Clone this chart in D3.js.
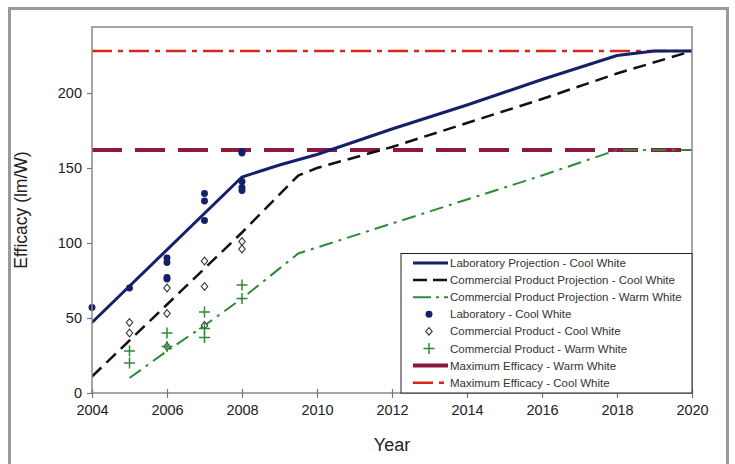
<!DOCTYPE html>
<html><head><meta charset="utf-8">
<script src="https://cdn.jsdelivr.net/npm/d3@7"></script>
<style>body{margin:0;background:#fff}svg{display:block}</style>
</head><body>
<script>
// ---- data ----
const labProjYears = [2004, 2008, 2009, 2010, 2012, 2014, 2016, 2018, 2019, 2020];
const labProjVals  = [47, 144, 152, 159, 176, 192, 209, 225, 228, 228];
const comCoolYears = [2004, 2005, 2006, 2007, 2008, 2009.5, 2010, 2012, 2014, 2016, 2018, 2020];
const comCoolVals  = [11, 35, 59, 83, 107, 145, 150, 164, 180, 196, 213, 228];
const comWarmYears = [2005, 2006, 2007, 2008, 2009.5, 2010, 2012, 2014, 2016, 2018, 2020];
const comWarmVals  = [10, 28, 45, 63, 93, 97, 113, 129, 145, 162, 162];
const labPtYears = [2004, 2005, 2006, 2006, 2006, 2006, 2007, 2007, 2007, 2008, 2008, 2008, 2008, 2008];
const labPtVals  = [57, 70, 90, 87, 77, 76, 133, 128, 115, 161, 160, 141, 137, 135];
const comCoolPtYears = [2005, 2005, 2006, 2006, 2006, 2007, 2007, 2007, 2008, 2008];
const comCoolPtVals  = [47, 40, 70, 53, 31, 88, 71, 45, 101, 96];
const comWarmPtYears = [2005, 2005, 2006, 2006, 2007, 2007, 2007, 2008, 2008];
const comWarmPtVals  = [28, 20, 40, 31, 54, 43, 37, 72, 63];
const maxWarm = 162;
const maxCool = 228;
const xTicks = [2004, 2006, 2008, 2010, 2012, 2014, 2016, 2018, 2020];
const yTicks = [0, 50, 100, 150, 200];
const legendLabels = [
  "Laboratory Projection - Cool White",
  "Commercial Product Projection - Cool White",
  "Commercial Product Projection - Warm White",
  "Laboratory - Cool White",
  "Commercial Product - Cool White",
  "Commercial Product - Warm White",
  "Maximum Efficacy - Warm White",
  "Maximum Efficacy - Cool White"
];

// ---- styles ----
const C = {navy:"#14206a", black:"#111", green:"#2f8a34", maroon:"#8e1840", red:"#d9261c"};
const styles = [
  {type:"line", color:C.navy, w:3, dash:null},
  {type:"line", color:C.black, w:2.5, dash:"13,7"},
  {type:"line", color:C.green, w:2, dash:"14,6,3,6"},
  {type:"dot"}, {type:"diamond"}, {type:"plus"},
  {type:"line", color:C.maroon, w:4, dash:"30,13"},
  {type:"line", color:C.red, w:2.5, dash:"20,6,5,6"}
];

const W = 735, H = 464;
const svg = d3.select("body").append("svg").attr("width", W).attr("height", H)
  .style("font-family", "Arial, 'Liberation Sans', sans-serif");

// outer frame
svg.append("rect").attr("x", 9.5).attr("y", 8.5).attr("width", 718).attr("height", 470)
  .attr("fill", "none").attr("stroke", "#9a9a9a").attr("stroke-width", 3);

const L = 92, R = 692, T = 27, B = 393;
const x = d3.scaleLinear().domain([2004, 2020]).range([L, R]);
const y = d3.scaleLinear().domain([0, 244]).range([B, T]);

const g = svg.append("g");
g.append("defs").append("clipPath").attr("id", "clip").append("rect")
  .attr("x", L).attr("y", T).attr("width", R - L).attr("height", B - T);

const plot = g.append("g").attr("clip-path", "url(#clip)");

const line = d3.line().x(d => x(d[0])).y(d => y(d[1]));
function drawLine(xs, vs, st) {
  const p = plot.append("path").datum(xs.map((v, i) => [v, vs[i]]))
    .attr("d", line).attr("fill", "none").attr("stroke", st.color)
    .attr("stroke-width", st.w);
  if (st.dash) p.attr("stroke-dasharray", st.dash);
}
// max lines
drawLine([2004, 2020], [maxWarm, maxWarm], styles[6]);
drawLine([2004, 2020], [maxCool, maxCool], styles[7]);
drawLine(comWarmYears, comWarmVals, styles[2]);
drawLine(comCoolYears, comCoolVals, styles[1]);
drawLine(labProjYears, labProjVals, styles[0]);

// markers
const dotSym = d3.symbol().type(d3.symbolCircle).size(38);
function plusPath(s) { return `M${-s},0H${s}M0,${-s}V${s}`; }
function drawMarker(sel, type) {
  if (type === "dot") sel.append("path").attr("d", dotSym()).attr("fill", C.navy);
  else if (type === "diamond") sel.append("path").attr("d", "M0,-3.8L3.2,0L0,3.8L-3.2,0Z").attr("fill", "#fff").attr("stroke", "#333").attr("stroke-width", 1.1);
  else sel.append("path").attr("d", plusPath(5.5)).attr("stroke", C.green).attr("stroke-width", 1.5).attr("fill", "none");
}
function drawPts(xs, vs, type) {
  xs.forEach((xv, i) => {
    const gg = g.append("g").attr("transform", `translate(${x(xv)},${y(vs[i])})`);
    drawMarker(gg, type);
  });
}
drawPts(comCoolPtYears, comCoolPtVals, "diamond");
drawPts(comWarmPtYears, comWarmPtVals, "plus");
drawPts(labPtYears, labPtVals, "dot");

// frame of plot
g.append("rect").attr("x", L).attr("y", T).attr("width", R - L).attr("height", B - T)
  .attr("fill", "none").attr("stroke", "#888").attr("stroke-width", 1.5);

// axes
const xAxis = g.append("g").attr("transform", `translate(0,${B})`)
  .call(d3.axisBottom(x).tickValues(xTicks).tickFormat(d3.format("d")).tickSize(5).tickPadding(7));
const yAxis = g.append("g").attr("transform", `translate(${L},0)`)
  .call(d3.axisLeft(y).tickValues(yTicks).tickSize(5).tickPadding(5));
[xAxis, yAxis].forEach(a => {
  a.select(".domain").remove();
  a.selectAll("line").attr("stroke", "#777").attr("stroke-width", 1.2);
  a.selectAll("text").attr("font-size", 14.5).attr("fill", "#222")
    .style("font-family", "Arial, 'Liberation Sans', sans-serif");
});
xAxis.selectAll(".tick").append("line").attr("y1", 0).attr("y2", -4).attr("stroke", "#777").attr("stroke-width", 1.2);

svg.append("text").attr("transform", `translate(27,${(T + B) / 2}) rotate(-90)`)
  .attr("text-anchor", "middle").attr("font-size", 17.5).attr("fill", "#222").text("Efficacy (lm/W)");
svg.append("text").attr("x", (L + R) / 2).attr("y", 451)
  .attr("text-anchor", "middle").attr("font-size", 18).attr("fill", "#222").text("Year");

// legend
const lg = svg.append("g");
lg.append("rect").attr("x", 401).attr("y", 253.5).attr("width", 291).attr("height", 139.5)
  .attr("fill", "#fff").attr("stroke", "#222").attr("stroke-width", 1);
legendLabels.forEach((lab, i) => {
  const yy = 263 + i * 17.1;
  const st = styles[i];
  if (st.type === "line") {
    const ln = lg.append("line").attr("x1", 413).attr("x2", 448).attr("y1", yy).attr("y2", yy)
      .attr("stroke", st.color).attr("stroke-width", st.w);
    if (st.dash) ln.attr("stroke-dasharray", i === 1 ? "14,6" : (i === 2 ? "18,5,3,5" : (i === 6 ? "35,10" : "20,6,5,6")));
  } else {
    const mg = lg.append("g").attr("transform", `translate(429,${yy})`);
    drawMarker(mg, st.type);
  }
  lg.append("text").attr("x", 450).attr("y", yy + 4).attr("font-size", 11.5).attr("fill", "#333").text(lab);
});
</script>
</body></html>
